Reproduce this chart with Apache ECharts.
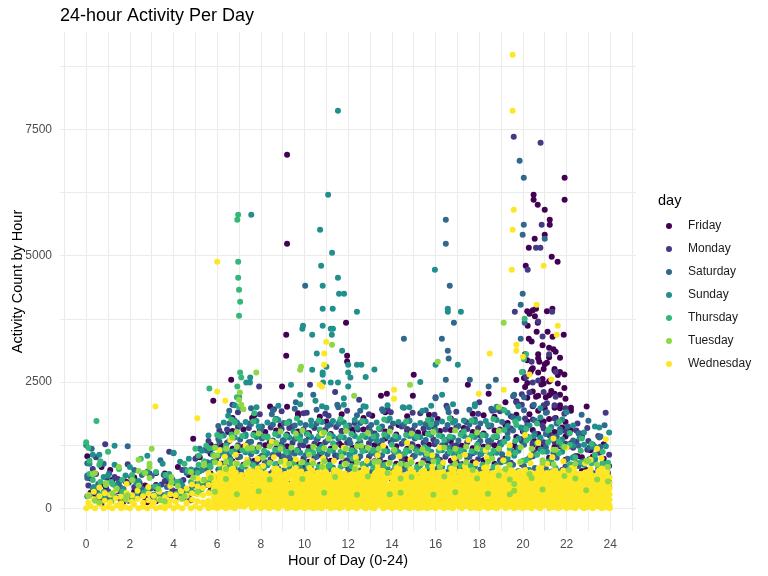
<!DOCTYPE html>
<html>
<head>
<meta charset="utf-8">
<script src="https://cdn.jsdelivr.net/npm/echarts@6.0.0/dist/echarts.min.js"></script>
<style>
  html, body { margin: 0; padding: 0; background: #fff; }
  #chart { width: 768px; height: 576px; }
</style>
</head>
<body>
<div id="chart"></div>
<script>
// day names in legend order, and their viridis colours
var dayNames = ['Friday', 'Monday', 'Saturday', 'Sunday', 'Thursday', 'Tuesday', 'Wednesday'];
var dayColors = ['#440154', '#443A83', '#31688E', '#21908C', '#35B779', '#8FD744', '#FDE725'];
// order the days are painted in (last one ends up on top)
var drawOrder = [0, 1, 2, 3, 4, 6, 5];

// axis breaks
var xBreaks = [0, 2, 4, 6, 8, 10, 12, 14, 16, 18, 20, 22, 24];
var xGrid = [-1, 0, 1, 2, 3, 4, 5, 6, 7, 8, 9, 10, 11, 12, 13, 14, 15, 16, 17, 18, 19, 20, 21, 22, 23, 24, 25];
var yBreaks = [0, 2500, 5000, 7500];
var yGrid = [0, 1250, 2500, 3750, 5000, 6250, 7500, 8750];

// single points [hour, activity count]
var friday = [
  [0.05,1030],[0.2,620],[0.4,280],[0.7,90],[0.9,410],[1.1,760],[1.4,210],[1.8,530],[2.0,218],[2.4,370],
  [2.8,120],[3.2,460],[3.6,690],[3.9,250],[4.2,820],[4.5,380],[4.8,160],[5.1,1020],[5.4,560],[5.7,1260],
  [6.0,340],[6.2,880],[6.5,1510],[6.8,640],[7.0,1150],[7.3,420],[7.6,1790],[7.9,960],[8.1,290],[8.4,1300],
  [8.7,720],[8.9,1640],[9.2,510],[9.4,1120],[9.7,1880],[9.9,830],[10.2,1420],[10.4,350],[10.7,1060],[11.0,1720],
  [11.3,640],[11.6,1280],[11.9,930],[12.2,1560],[12.5,470],[12.8,1190],[13.1,1830],[13.4,760],[13.7,1380],[14.0,540],
  [14.3,1650],[14.6,990],[14.9,1270],[15.2,620],[15.5,1490],[15.8,1010],[16.1,1770],[16.4,430],[16.7,1330],[17.0,880],
  [17.3,1590],[17.6,710],[17.9,1220],[18.2,1840],[18.5,560],[18.8,1410],[19.1,980],[19.3,1690],[19.6,1250],[19.8,2050],
  [20.0,1520],[20.1,2400],[20.3,1860],[20.4,2750],[20.5,1340],[20.6,2210],[20.7,3050],[20.8,1700],[20.9,2560],[21.0,1980],
  [21.1,2880],[21.2,1450],[21.3,2320],[21.4,3150],[21.5,1790],[21.6,2640],[21.7,2040],[21.8,1600],[21.9,2380],[22.0,1250],
  [22.2,1930],[22.4,1030],[22.6,1480],[22.9,760],[23.1,1150],[23.4,590],[23.7,980],[23.9,420],[21.3,900],[21.6,600],
  [20.2,3900],[20.3,3850],[20.45,3920],[20.55,3800],[20.6,3950],[21.1,3900],[21.35,3950],[20.22,3615],[20.68,3675],[21.13,3497],
  [20.63,3497],[21.87,3437],[21.36,3398],[20.27,3358],[20.4,3300],[20.9,3230],[21.2,3180],[21.5,3100],[20.1,3050],[21.7,2980],
  [20.75,2900],[21.0,2850],[21.45,2760],[20.35,2700],[21.9,2650],[20.05,2580],[21.25,2530],[21.6,2470],[21.05,2200],[20.85,2450],
  [9.2,7000],[9.2,5238],[9.16,3437],[9.16,3022],[6.64,2547],[8.97,2409],[11.9,3675],[11.95,3022],[11.95,2904],[15.0,2646],
  [17.48,2448],[18.43,2270],[5.82,2129],[8.42,2013],[13.5,2230],[13.77,2270],[14.96,2230],[4.9,1379],[22.92,2013],[22.5,1030],
  [21.91,6545],[21.91,6109],[20.49,6208],[20.49,6109],[20.68,6010],[21.0,5911],[21.23,5713],[21.23,5614],[21.0,5416],[20.54,5337],
  [20.27,5159],[21.32,4981],[21.59,4882],[20.13,4803]
];
var monday = [
  [0.1,450],[0.3,780],[0.5,200],[0.87,1266],[1.0,340],[1.3,620],[1.6,150],[1.9,870],[2.2,420],[2.5,260],
  [2.9,690],[3.3,180],[3.6,540],[3.8,1120],[4.1,330],[4.4,760],[4.7,220],[5.0,980],[5.3,470],[5.6,1330],
  [5.9,610],[6.1,1540],[6.4,820],[6.7,2050],[6.9,1190],[7.2,540],[7.5,1680],[7.8,910],[8.0,1420],[8.3,620],
  [8.6,1960],[8.8,1080],[9.1,450],[9.3,1590],[9.6,840],[9.8,1260],[10.1,1890],[10.3,700],[10.6,1380],[10.9,560],
  [11.1,1830],[11.4,1050],[11.7,1520],[12.0,780],[12.3,1690],[12.6,1210],[12.9,520],[13.2,1470],[13.5,880],[13.8,1960],
  [14.1,1130],[14.4,640],[14.7,1570],[15.0,1040],[15.3,1880],[15.6,720],[15.9,1360],[16.2,960],[16.5,2030],[16.8,1240],
  [17.1,580],[17.4,1710],[17.7,1090],[18.0,1450],[18.3,800],[18.6,1930],[18.9,1170],[19.2,1560],[19.5,690],[19.7,2100],
  [19.9,1370],[20.1,1780],[20.3,2290],[20.5,1110],[20.7,2530],[20.9,1640],[21.1,2080],[21.3,1430],[21.5,2210],[21.7,1250],
  [21.9,1870],[22.1,1480],[22.3,1200],[22.5,1680],[22.8,940],[23.0,1330],[23.2,700],[23.5,1100],[23.79,1894],[23.9,850],
  [23.95,520],[22.6,560],[23.3,420],[21.8,760],
  [19.58,7356],[20.81,7237],[20.86,5614],[20.6,5159],[20.8,5159],[20.22,4724],[19.63,3893],[21.34,3893],[10.25,2448],[7.92,2409],
  [20.7,3700],[20.9,3400],[21.2,3050],[20.4,2900],[21.5,2700],[20.15,2600],[11.4,2300],[12.5,2150],[16.0,2200],[18.0,2100]
];
var saturday = [
  [0.05,600],[0.25,1180],[0.5,320],[0.8,880],[1.1,170],[1.5,510],[1.9,1230],[2.2,760],[2.6,300],[3.0,640],
  [3.4,950],[3.7,420],[4.0,1090],[4.3,230],[4.6,700],[4.9,460],[5.2,1180],[5.5,800],[5.8,350],[6.1,1320],
  [6.3,580],[6.6,980],[6.9,1700],[7.1,760],[7.4,1280],[7.7,430],[8.0,1560],[8.2,900],[8.5,1860],[8.8,620],
  [9.0,1340],[9.3,1010],[9.6,2100],[9.9,760],[10.1,1480],[10.4,2250],[10.7,1120],[10.9,590],[11.2,1660],[11.5,2050],
  [11.8,880],[12.1,1290],[12.4,1840],[12.7,690],[13.0,1530],[13.3,1060],[13.6,1920],[13.9,430],[14.2,1370],[14.5,860],
  [14.8,1740],[15.1,1170],[15.4,540],[15.7,1600],[16.0,2180],[16.3,1250],[16.6,1900],[16.9,780],[17.2,1460],[17.5,1040],
  [17.8,1760],[18.1,620],[18.4,1330],[18.7,1940],[19.0,910],[19.3,1490],[19.6,2250],[19.8,1200],[20.0,2700],[20.2,1650],
  [20.5,2050],[20.8,1380],[21.1,1900],[21.4,1100],[21.7,1570],[22.0,820],[22.3,1340],[22.69,1854],[23.0,1735],[23.3,960],
  [23.5,1400],[23.74,1642],[23.9,700],
  [10.03,4407],[16.47,5713],[16.47,5238],[16.65,4407],[16.84,3675],[16.29,3358],[16.56,3121],[16.6,2963],[19.85,6881],[20.04,6545],
  [20.04,5614],[19.99,5416],[21.0,5337],[19.99,4249],[19.9,4031],[20.08,3675],[19.9,3358],[14.55,3358],[16.47,2547],[17.57,2547],
  [18.76,2547],[18.43,2409]
];
var sunday = [
  [0.0,1250],[0.15,880],[0.35,420],[0.6,1060],[0.85,230],[1.0,650],[1.3,1240],[1.7,380],[2.0,820],[2.4,540],
  [2.8,1040],[3.1,270],[3.5,880],[3.8,600],[4.0,1100],[4.4,450],[4.7,980],[5.0,310],[5.3,760],[5.6,1440],
  [5.9,540],[6.2,1100],[6.5,1830],[6.8,680],[7.0,2200],[7.3,1460],[7.6,870],[7.9,1620],[8.2,1050],[8.5,420],
  [8.7,1770],[9.0,1190],[9.2,650],[9.5,1520],[9.8,2250],[10.0,900],[10.3,1640],[10.5,2130],[10.8,1230],[11.0,1990],
  [11.3,760],[11.6,1710],[11.8,2180],[12.1,1060],[12.4,1600],[12.7,2020],[13.0,890],[13.3,1340],[13.6,560],[13.9,1780],
  [14.2,1150],[14.5,2000],[14.8,720],[15.1,1420],[15.4,1930],[15.7,990],[16.0,1550],[16.3,2250],[16.6,1200],[16.9,1730],
  [17.2,630],[17.5,1380],[17.8,2060],[18.1,1080],[18.4,1650],[18.7,470],[19.0,1260],[19.3,1890],[19.6,1040],[19.9,1600],
  [20.2,760],[20.5,1430],[20.8,1980],[21.1,1120],[21.4,650],[21.7,1510],[22.0,1900],[22.3,1010],[22.6,1390],[22.9,560],
  [23.2,1220],[23.5,1600],[23.8,880],[23.95,1500],
  [11.53,7870],[11.08,6208],[7.56,5812],[10.71,5515],[11.26,5060],[10.76,4803],[11.53,4565],[10.83,4407],[11.58,4249],[11.81,4249],
  [10.83,3952],[11.29,3952],[10.83,3615],[9.93,3615],[9.9,3555],[11.2,3555],[11.3,3555],[11.25,3437],[10.35,3437],[11.72,3121],
  [10.56,3062],[10.35,2745],[10.83,2686],[10.83,2646],[11.0,2804],[12.0,2686],[12.0,2409],[12.1,2587],[7.51,2587],[7.33,2488],
  [7.5,2488],[9.38,2448],[10.85,2488],[11.2,2488],[11.53,2488],[12.4,3893],[15.97,4724],[16.56,3952],[16.56,3893],[17.16,3893],
  [16.0,2844],[17.02,2844],[12.0,2844],[12.4,2844],[12.6,2844],[13.2,2750],[12.8,2600],[15.3,2500]
];
var thursday = [
  [0.0,1310],[0.1,1200],[0.3,560],[0.47,1728],[0.6,860],[0.8,330],[1.0,1120],[1.2,480],[1.5,780],[1.8,240],
  [2.1,660],[2.5,980],[2.8,380],[3.2,720],[3.5,180],[3.9,560],[4.2,300],[4.5,880],[4.8,520],[5.0,1180],
  [5.1,700],[5.3,380],[5.4,930],[5.5,1240],[5.6,560],[5.7,820],[5.8,1060],[5.9,420],[6.0,1450],[6.2,700],
  [6.4,1240],[6.6,950],[6.8,1700],[7.1,640],[7.4,1150],[7.7,1880],[8.0,820],[8.3,1400],[8.6,560],[8.9,1220],
  [9.2,1690],[9.5,900],[9.8,1350],[10.1,560],[10.4,1100],[10.7,1560],[11.0,820],[11.3,1290],[11.6,640],[11.9,1620],
  [12.2,980],[12.5,1380],[12.8,700],[13.1,1140],[13.4,1580],[13.7,860],[14.0,1260],[14.3,530],[14.6,1090],[14.9,1470],
  [15.2,780],[15.5,1210],[15.8,1660],[16.1,950],[16.4,1350],[16.7,610],[17.0,1130],[17.3,1520],[17.6,840],[17.9,1260],
  [18.2,570],[18.5,1060],[18.8,1430],[19.1,730],[19.4,1180],[19.7,1650],[20.0,940],[20.3,1390],[20.6,600],[20.9,1120],
  [21.2,1560],[21.5,800],[21.8,1240],[22.1,560],[22.4,1010],[22.7,1380],[23.0,720],[23.3,1060],[23.6,480],[23.9,900],
  [6.96,5812],[6.92,5713],[6.96,4882],[6.96,4565],[7.0,4328],[7.05,4090],[7.0,3813],[7.05,2686],[7.1,2587],[6.92,2409],
  [5.64,2370],[20.08,3754],[20.05,2950],[20.15,3050],[19.95,2700],[6.9,2200],[7.0,2000]
];
var tuesday = [
  [0.1,240],[0.3,680],[0.6,120],[0.9,460],[1.2,300],[1.5,820],[1.8,180],[2.1,560],[2.4,960],[2.7,700],
  [2.9,820],[3.0,1180],[3.3,380],[3.6,140],[3.9,620],[4.2,440],[4.5,240],[4.8,720],[5.1,330],[5.4,880],
  [5.7,600],[5.87,1036],[6.0,1050],[6.4,780],[6.7,1400],[7.1,2050],[7.2,1960],[7.3,880],
  [7.6,1200],[8.1,1000],[8.7,1300],[9.3,880],[9.6,1480],[10.2,1060],
  [10.8,820],[11.1,1380],[11.7,1020],[12.3,780],[12.6,1240],[13.2,920],
  [13.8,700],[14.1,1160],[14.7,860],[15.6,1080],[16.2,820],
  [17.1,1020],[17.7,760],[18.6,980],[19.2,780],
  [20.3,680],[20.9,900],[21.5,1160],[22.1,760],[23.0,930],[7.04,2290],[7.0,2150],
  [9.84,2804],[9.8,2745],[11.26,3240],[7.79,2686],[19.12,3675],[16.1,2903],[14.83,2448],[12.27,2230],[18.9,2000]
];
var wednesday = [
  [0.0,0],[0.2,40],[0.4,0],[0.6,80],[0.8,0],[1.0,30],[1.2,0],[1.4,60],[1.6,0],[1.8,20],
  [2.0,0],[2.2,70],[2.4,0],[2.6,30],[2.8,0],[3.0,50],[3.2,0],[3.4,20],[3.6,0],[3.8,60],
  [4.0,0],[4.2,30],[4.4,0],[4.6,90],[4.8,0],[5.0,40],[5.2,0],[5.4,70],[5.6,0],[5.8,20],
  [6.0,0],[6.2,50],[6.4,0],[6.6,30],[6.8,0],[7.0,60],[7.6,0],[7.8,80],
  [8.0,0],[8.2,40],[8.4,0],[8.6,30],[8.8,0],[9.0,70],[9.2,0],[9.4,20],[9.6,0],[9.8,50],
  [10.0,0],[10.2,30],[10.4,0],[10.6,60],[10.8,0],[11.0,40],[11.2,0],[11.4,20],[11.6,0],[11.8,90],
  [12.0,0],[12.2,30],[12.4,0],[12.6,50],[12.8,0],[13.0,20],[13.2,0],[13.4,70],[13.6,0],[13.8,40],
  [14.0,0],[14.2,30],[14.4,0],[14.6,60],[14.8,0],[15.0,20],[15.2,0],[15.4,80],[15.6,0],[15.8,30],
  [16.0,0],[16.2,50],[16.4,0],[16.6,20],[16.8,0],[17.0,60],[17.2,0],[17.4,40],[17.6,0],[17.8,30],
  [18.0,0],[18.2,70],[18.4,0],[18.6,20],[18.8,0],[19.0,50],[19.2,0],[19.4,30],[19.6,0],[19.8,60],
  [20.0,0],[20.2,20],[20.4,0],[20.6,40],[20.8,0],[21.0,80],[21.2,0],[21.4,30],[21.6,0],[21.8,50],
  [22.0,0],[22.2,20],[22.4,0],[22.6,60],[22.8,0],[23.0,30],[23.2,0],[23.4,40],[23.6,0],[23.8,20],[23.98,0],
  [3.17,2013],[5.09,1781],[6.1,1150],[6.6,1350],[7.3,1240],[8.5,1320],[10.8,1480],[11.8,1200],[13.6,1240],[14.7,1300],
  [16.2,1200],[17.5,1350],[18.3,1150],[19.4,1250],[20.1,1450],[20.7,1300],[21.4,1380],[22.0,1200],[23.4,1180],[23.8,1365],
  [19.53,8979],[19.53,7870],[19.58,5911],[19.53,5515],[19.49,4724],[20.95,4803],[20.63,4031],[6.0,4882],[10.99,3299],[10.9,3062],
  [10.9,2844],[10.7,2448],[10.8,2409],[21.6,3615],[21.55,3437],[19.7,3240],[19.7,3121],[18.48,3062],[17.98,2270],[19.12,2349],
  [14.1,2349],[14.1,2170],[6.0,2310],[6.37,2131],[20.3,2650],[21.3,2550],[20.0,3000]
];

// dense lower band: [hour, count, count, ...] columns
var fridayCols = [
  [0.2,310,590],[0.7,160,470,820],[1.2,250,560],[1.7,130,380],[2.2,340,610],[2.7,210,450],[3.2,140,390,700],[3.7,280,540],
  [4.2,220,480],[4.7,370,660],[5.2,430,740,1010],[5.7,360,690,1080],
  [6.2,630,880,1240,1470],[6.7,570,930,1180,1530,1790],[7.2,650,860,1220,1560],[7.7,590,940,1170,1480,1840],
  [8.2,620,910,1250,1510],[8.7,560,870,1190,1540,1770],[9.2,640,950,1230,1460,2010],[9.7,600,880,1160,1520,1830],
  [10.2,580,920,1210,1490],[10.7,650,860,1260,1550,1810],[11.2,610,940,1180,1470],[11.7,570,890,1240,1530,1860],
  [12.2,630,910,1200,1500],[12.7,590,870,1170,1560,1790],[13.2,660,930,1250,1480],[13.7,600,900,1190,1520,1900],
  [14.2,570,880,1230,1460],[14.7,640,950,1180,1540,1820],[15.2,610,860,1220,1500],[15.7,580,920,1260,1470,1850],
  [16.2,650,890,1170,1530],[16.7,600,940,1210,1550,1780],[17.2,570,870,1240,1490],[17.7,630,910,1190,1510,1870],
  [18.2,590,950,1220,1480],[18.7,660,880,1250,1540,1810],
  [19.2,940,1380,1650,2100],[19.7,1150,1410,1850,2120,2540],[20.2,960,1410,1720,2190,2480,2930],
  [20.7,1190,1470,1930,2230,2690,2970],[21.2,1000,1460,1770,2240,2510,2990],[21.7,1230,1520,1980,2250,2700],
  [20.45,1260,1550,2020,2310,2770],[20.95,1260,1720,2000,2470,2760],[21.45,1220,1510,1990,2270,2730],[21.95,960,1420,1710,2170],
  [22.2,860,1290,1550,1990],[22.7,740,1010,1430],[23.2,600,1020,1260],[23.7,600,850,1270]
];
var mondayCols = [
  [0.45,400,680,1010],[0.95,190,600],[1.45,340,580],[1.95,150,510],[2.45,310,500],[2.95,390,640],[3.45,170,470],[3.95,360,570],
  [4.45,210,560],[4.95,450,720],[5.45,510,790,1160],[5.95,500,940,1220],
  [6.45,700,960,1300,1560],[6.95,650,1010,1250,1610,1900],[7.45,720,950,1310,1590],[7.95,670,1000,1260,1550,1860],
  [8.45,690,970,1290,1600],[8.95,660,1020,1270,1570,1920],[9.45,710,940,1300,1620],[9.95,680,990,1250,1560,1880],
  [10.45,650,1000,1280,1590],[10.95,720,960,1310,1550,1870],[11.45,690,1010,1260,1610],[11.95,660,950,1300,1580,1930],
  [12.45,700,980,1270,1560],[12.95,670,1020,1290,1600,1860],[13.45,710,960,1250,1570],[13.95,680,1000,1310,1590,1900],
  [14.45,650,970,1280,1620],[14.95,720,1010,1260,1550,1890],[15.45,690,950,1300,1580],[15.95,660,990,1270,1610,1850],
  [16.45,700,1020,1290,1560],[16.95,670,960,1250,1600,1910],[17.45,710,1000,1310,1570],[17.95,680,970,1280,1590,1870],
  [18.45,650,1010,1260,1620],[18.95,720,950,1300,1560,1920],
  [19.45,900,1140,1580,1820],[19.95,870,1330,1590,2050,2260],[20.45,1030,1290,1760,2030,2490],[20.95,850,1310,1580,2040,2300],
  [21.45,1060,1320,1780,2040],[21.95,830,1280,1530,1980],
  [22.45,670,890,1320,1540],[22.95,510,930,1160,1590],[23.45,550,780,1200,1430],[23.95,410,840,1060]
];
var saturdayCols = [
  [0.05,240,650,890],[0.55,240,480],[1.05,290,690],[1.55,210,420],[2.05,220,620],[2.55,380,660],[3.05,230,410],[3.55,260,660],
  [4.05,270,500],[4.55,340,760],[5.05,480,760],[5.55,460,910,1140],
  [6.05,770,1030,1370,1630],[6.55,720,1080,1330,1680,1930],[7.05,760,1020,1360,1640],[7.55,740,1070,1320,1670,1980],
  [8.05,780,1040,1380,1620],[8.55,730,1060,1340,1660,1940],[9.05,750,1030,1350,1690],[9.55,720,1080,1370,1640,1970],
  [10.05,770,1050,1330,1650],[10.55,740,1020,1360,1680,1950],[11.05,760,1070,1340,1630],[11.55,730,1040,1380,1670,2000],
  [12.05,780,1060,1350,1640],[12.55,750,1030,1320,1690,1930],[13.05,720,1080,1370,1650],[13.55,760,1050,1340,1620,1960],
  [14.05,740,1020,1360,1680],[14.55,770,1070,1330,1660,1990],[15.05,730,1040,1380,1640],[15.55,750,1060,1350,1670,1940],
  [16.05,780,1030,1320,1690],[16.55,720,1080,1360,1650,1980],[17.05,760,1050,1340,1630],[17.55,740,1020,1370,1660,1950],
  [18.05,770,1070,1330,1680],[18.55,730,1040,1350,1640,1970],
  [19.05,670,1070,1310,1710,1950],[19.55,860,1120,1540,1800,2220],[20.05,840,1260,1520,1940,2200],[20.55,800,1060,1480,1740],
  [21.05,790,1210,1470,1890],[21.55,740,1000,1420,1680],
  [22.05,580,980,1220,1620],[22.55,600,840,1240,1480],[23.05,570,970,1210],[23.55,580,820,1220,1420]
];
var sundayCols = [
  [0.3,390,660,1060],[0.8,220,620],[1.3,230,460,860],[1.8,260,650],[2.3,270,500],[2.8,340,730],[3.3,250,440],[3.8,280,680],
  [4.3,300,530,920],[4.8,360,770],[5.3,500,760,1140],[5.8,480,920,1190],
  [6.3,840,1100,1440,1700],[6.8,800,1140,1400,1740,2040],[7.3,830,1110,1430,1710],[7.8,810,1130,1410,1730,2000],
  [8.3,850,1090,1420,1700],[8.8,790,1150,1440,1750,2030],[9.3,820,1120,1400,1720],[9.8,840,1100,1430,1690,2060],
  [10.3,800,1130,1410,1740],[10.8,830,1110,1450,1710,2020],[11.3,810,1140,1420,1730],[11.8,850,1100,1400,1700,2050],
  [12.3,790,1120,1430,1750],[12.8,820,1150,1410,1720,2010],[13.3,840,1090,1440,1700],[13.8,800,1130,1420,1740,2040],
  [14.3,830,1110,1400,1710],[14.8,810,1140,1430,1730,2000],[15.3,850,1100,1410,1690],[15.8,790,1120,1450,1750,2030],
  [16.3,820,1150,1420,1720],[16.8,840,1090,1400,1700,2060],[17.3,800,1130,1430,1740],[17.8,830,1110,1410,1710,2020],
  [18.3,810,1140,1440,1730],[18.8,850,1100,1420,1750,2010],
  [19.3,750,990,1390,1630],[19.8,740,1140,1380,1780,2020],[20.3,760,1000,1400,1640],[20.8,760,1160,1400,1800],
  [21.3,730,970,1370,1610],[21.8,720,1120,1360,1760],
  [22.3,600,1000,1240,1640],[22.8,620,860,1260,1500],[23.3,580,980,1220,1620],[23.8,590,830,1230]
];
var thursdayCols = [
  [0.15,260,680,940],[0.65,270,520,930],[1.15,140,520],[1.65,330,560],[2.15,180,560],[2.65,310,700],[3.15,230,430],[3.65,270,660],
  [4.15,290,520],[4.65,340,740],[5.15,340,520,860,1040],[5.65,320,660,840,1190],
  [6.15,560,820,1160,1420],[6.65,520,860,1120,1460,1760],[7.15,550,830,1150,1430],[7.65,530,850,1130,1450,1720],
  [8.15,570,810,1140,1420],[8.65,510,870,1160,1470,1750],[9.15,540,840,1120,1440],[9.65,560,820,1150,1410,1780],
  [10.15,520,850,1130,1460],[10.65,550,830,1170,1430,1740],[11.15,530,860,1140,1450],[11.65,570,820,1120,1420,1770],
  [12.15,510,840,1150,1470],[12.65,540,870,1130,1440,1730],[13.15,560,810,1160,1420],[13.65,520,850,1140,1460,1760],
  [14.15,550,830,1120,1430],[14.65,530,860,1150,1450,1720],[15.15,570,820,1130,1410],[15.65,510,840,1170,1470,1750],
  [16.15,540,870,1140,1440],[16.65,560,810,1120,1420,1780],[17.15,520,850,1150,1460],[17.65,550,830,1130,1430,1740],
  [18.15,530,860,1160,1450],[18.65,570,820,1140,1410,1770],
  [19.15,700,930,1320,1550,1940],[19.65,710,1100,1330,1720],[20.15,720,950,1340,1570],[20.65,670,1060,1290,1680],
  [21.15,690,920,1310,1540],[21.65,700,1090,1320,1710],
  [22.15,640,870,1260,1490],[22.65,520,910,1140],[23.15,660,890,1280],[23.65,500,890,1120]
];
// tuesday sits on top of the yellow band, so only a few patches per column
var tuesdayCols = [
  [0.4,150,700],[0.9,500],[1.4,390],[1.9,260],[2.4,450,740],[2.9,600,880],[3.4,160],[3.9,510],
  [4.4,190],[4.9,610],[5.4,560,850],[5.9,330,910,1200],
  [6.4,580,920,1180],[6.9,280,880,1220,1510],[7.4,910,1190],[7.9,340,1210,1480],
  [8.4,570,900,1230],[8.9,920,1180,1520],[9.4,300,1200],[9.9,580,910,1540],
  [10.4,890,1220],[10.9,310,930,1190,1500],[11.4,620,1210],[11.9,880,1180,1530],
  [12.4,270,910,1230],[12.9,630,1200,1490],[13.4,920,1180],[13.9,280,900,1520],
  [14.4,310,590,880],[14.9,620,910,1210,1480],[15.4,890,1170],[15.9,270,930,1510],
  [16.4,630,1200],[16.9,320,880,1180,1540],[17.4,910,1220],[17.9,590,1190,1500],
  [18.4,290,920,1210],[18.9,650,1180,1530],
  [19.4,280,570,860],[19.6,350,480],[19.9,920,1210],[20.4,600,1180],[20.9,370,950],
  [21.4,870,1160],[21.9,640,1220],
  [22.4,590,880],[22.9,360,940],[23.4,570,860],[23.9,530,820]
];
var wednesdayCols = [
  [0.1,110,260],[0.35,180,330],[0.6,90,240,410],[0.85,150,300],[1.1,120,270],[1.35,200,360],[1.6,100,230],[1.85,170,310,480],
  [2.1,130,260],[2.35,190,350],[2.6,110,240],[2.85,160,290,420],[3.1,120,250],[3.35,180,330],[3.6,100,220],[3.85,150,280,440],
  [4.1,130,260],[4.35,190,340],[4.6,110,250,390],[4.85,170,300,470],[5.1,140,280,430,590],[5.35,120,260,400,550],
  [5.6,60,150,300,460,610,700],
  [5.85,40,130,220,310,390,480,570,650],
  [6.1,80,170,260,350,430,520,610,700,880],
  [6.35,20,110,200,280,370,460,550,630,720,810,1020],
  [6.6,60,150,240,330,410,500,590,680,760],
  [6.85,100,190,270,360,450,540,620,710,890,1060],
  [7.1,40,130,220,300,390,480,570,660],
  [7.35,70,160,250,340,420,510,600,690,870,960],
  [7.6,30,120,210,290,380,560,640,730],
  [7.85,90,180,260,350,440,530,620,700,790,980],
  [8.1,50,140,230,320,400,490,580,670,840],
  [8.35,10,100,190,280,360,450,540,630],
  [8.6,80,170,250,340,430,520,610,690,780,1010],
  [8.85,40,130,220,310,390,480,570,660,740],
  [9.1,60,150,240,330,410,500,590,680,850,940],
  [9.35,20,110,200,290,370,460,640,720],
  [9.6,100,190,280,360,450,540,630,710,800,970],
  [9.85,30,120,210,300,380,470,560,650,730,910],
  [10.1,70,160,250,330,420,510,600,680],
  [10.35,50,140,220,310,400,490,580,660,750,930],
  [10.6,10,100,190,270,360,450,540,620,710],
  [10.85,90,180,270,350,440,530,620,700,790,880,990],
  [11.1,40,130,210,300,390,480,560,650],
  [11.35,60,150,240,320,410,500,590,670,760,940],
  [11.6,20,110,200,280,370,460,550,630,720],
  [11.85,80,170,260,340,430,520,610,690,870],
  [12.1,50,140,230,310,400,490,580,660],
  [12.35,30,120,200,290,380,470,550,640,730,820,1000],
  [12.6,100,190,270,360,450,540,620,710],
  [12.85,60,150,240,330,410,500,590,680,760,940],
  [13.1,10,100,190,280,360,450,540,630],
  [13.35,70,160,250,340,420,510,600,690,770,860,1050],
  [13.6,40,130,220,300,390,480,570,650,740],
  [13.85,90,180,270,350,440,620,700,880],
  [14.1,20,110,200,290,370,460,550,640,720],
  [14.35,60,150,230,320,410,500,580,670,760,850,1030],
  [14.6,30,120,210,290,380,470,560,640],
  [14.85,80,170,260,350,430,520,610,700,780,960],
  [15.1,50,140,220,310,400,490,570,660],
  [15.35,10,100,190,280,370,450,540,630,720,890],
  [15.6,70,160,250,330,420,510,600,680],
  [15.85,40,130,220,310,390,480,570,660,740,830,1050],
  [16.1,100,190,280,360,450,540,630,710],
  [16.35,20,110,200,290,370,460,550,640,720,900],
  [16.6,60,150,240,320,410,500,590,670],
  [16.85,90,180,260,350,440,530,610,700,790,990],
  [17.1,30,120,210,290,380,560,640,730],
  [17.35,50,140,230,320,400,490,580,670,750,840,1060],
  [17.6,80,170,250,340,430,520,600,690],
  [17.85,10,100,190,280,360,450,540,630,710,890],
  [18.1,60,150,240,330,410,500,590,680],
  [18.35,40,130,210,300,390,480,560,650,740,830,1000],
  [18.6,90,180,270,350,440,530,620,700],
  [18.85,20,110,200,290,370,460,550,640,720,810],
  [19.1,70,160,250,330,420,510,600,680,950],
  [19.35,50,140,220,310,400,490,570,660,750,840,1080],
  [19.6,100,190,280,360,450,540,630,710],
  [19.85,30,120,210,300,380,470,560,650,730,910],
  [20.1,60,150,240,320,410,500,590,670,760],
  [20.35,10,100,190,280,360,450,540,630,710,890,1050],
  [20.6,80,170,260,340,430,520,610,690],
  [20.85,40,130,220,310,390,480,570,660,740,830],
  [21.1,90,180,270,350,440,530,620,700,880],
  [21.35,20,110,200,290,370,460,550,640,720,1010],
  [21.6,70,160,250,330,420,510,600,680],
  [21.85,50,140,230,310,400,490,580,660,750,930],
  [22.1,100,190,270,360,450,540,620,710],
  [22.35,30,120,210,290,380,470,560,640,730,820],
  [22.6,60,150,240,330,410,500,590,680],
  [22.85,10,100,190,280,360,450,540,630,710,890],
  [23.1,80,170,260,350,430,520,610,700,780,960],
  [23.35,40,130,220,300,390,480,570,650],
  [23.6,90,180,270,350,440,530,620,700,790,990],
  [23.85,20,110,200,290,370,460,550,640,720,810]
];
// more wednesday columns between the ones above, where the band is solid
var wednesdayFill = [
  [5.97,60,170,280,390,500],[6.22,30,140,250,360,470,580,690],[6.48,90,200,310,420,530,640],[6.72,20,130,240,350,460,570,680,790],
  [6.98,60,170,280,390,500,610],[7.22,30,140,250,360,470,580],[7.48,90,200,310,420,530,640,750],[7.72,20,130,240,350,460,570,680],
  [7.98,60,170,280,390,500,610,720],[8.22,30,140,250,360,470,580,690],[8.48,90,200,310,420,530,640],[8.72,20,130,240,350,460,570,680,790],
  [8.98,60,170,280,390,500,610],[9.22,30,140,250,360,470,580,690],[9.48,90,200,310,420,530,640,750],[9.72,20,130,240,350,460,570,680],
  [9.98,60,170,280,390,500,610],[10.22,30,140,250,360,470,580,690,800],[10.48,90,200,310,420,530,640],[10.72,20,130,240,350,460,570,680],
  [10.98,60,170,280,390,500,610,720],[11.22,30,140,250,360,470,580],[11.48,90,200,310,420,530,640,750],[11.72,20,130,240,350,460,570,680],
  [11.98,60,170,280,390,500,610],[12.22,30,140,250,360,470,580,690],[12.48,90,200,310,420,530,640],[12.72,20,130,240,350,460,570,680,790],
  [12.98,60,170,280,390,500,610],[13.22,30,140,250,360,470,580,690],[13.48,90,200,310,420,530,640,750],[13.72,20,130,240,350,460,570,680],
  [13.98,60,170,280,390,500,610],[14.22,30,140,250,360,470,580,690,800],[14.48,90,200,310,420,530,640],[14.72,20,130,240,350,460,570,680],
  [14.98,60,170,280,390,500,610,720],[15.22,30,140,250,360,470,580],[15.48,90,200,310,420,530,640,750],[15.72,20,130,240,350,460,570,680],
  [15.98,60,170,280,390,500,610],[16.22,30,140,250,360,470,580,690],[16.48,90,200,310,420,530,640],[16.72,20,130,240,350,460,570,680,790],
  [16.98,60,170,280,390,500,610],[17.22,30,140,250,360,470,580,690],[17.48,90,200,310,420,530,640,750],[17.72,20,130,240,350,460,570,680],
  [17.98,60,170,280,390,500,610],[18.22,30,140,250,360,470,580,690,800],[18.48,90,200,310,420,530,640],[18.72,20,130,240,350,460,570,680],
  [18.98,60,170,280,390,500,610,720],[19.22,30,140,250,360,470,580],[19.48,90,200,310,420,530,640,750],[19.72,20,130,240,350,460,570,680],
  [19.98,60,170,280,390,500,610],[20.22,30,140,250,360,470,580,690],[20.48,90,200,310,420,530,640],[20.72,20,130,240,350,460,570,680,790],
  [20.98,60,170,280,390,500,610],[21.22,30,140,250,360,470,580,690],[21.48,90,200,310,420,530,640,750],[21.72,20,130,240,350,460,570,680],
  [21.98,60,170,280,390,500,610],[22.22,30,140,250,360,470,580,690,800],[22.48,90,200,310,420,530,640],[22.72,20,130,240,350,460,570,680],
  [22.98,60,170,280,390,500,610,720],[23.22,30,140,250,360,470,580],[23.48,90,200,310,420,530,640,750],[23.72,20,130,240,350,460,570,680],
  [23.97,60,170,280,390,500,610]
];

var dayPoints = [friday, monday, saturday, sunday, thursday, tuesday, wednesday];
var dayCols = [fridayCols, mondayCols, saturdayCols, sundayCols, thursdayCols, tuesdayCols, wednesdayCols.concat(wednesdayFill)];

// turn [hour, c1, c2, ...] columns into [hour, c] points
function expand_cols(cols)
{
    var out = [];
    cols.forEach(function (row) {
        for (var k = 1; k < row.length; k++) {
            out.push([row[0], row[k]]);
        }
    });
    return out;
}

var font = '"Liberation Sans", Arial, sans-serif';
var chart = echarts.init(document.getElementById('chart'), null, {renderer: 'canvas'});

var series = drawOrder.map(function (i) {
    return {
        name: dayNames[i],
        type: 'scatter',
        data: expand_cols(dayCols[i]).concat(dayPoints[i]),
        symbol: 'circle',
        symbolSize: 6,
        itemStyle: {color: dayColors[i], opacity: 1},
        emphasis: {disabled: true},
        silent: true
    };
});

chart.setOption({
    animation: false,
    backgroundColor: '#ffffff',
    textStyle: {fontFamily: font},
    title: [{
        text: '24-hour Activity Per Day',
        left: 60, top: 7, padding: 0,
        textStyle: {fontFamily: font, fontSize: 18, fontWeight: 'normal', color: '#000'}
    }, {
        text: 'day',
        left: 658, top: 193, padding: 0,
        textStyle: {fontFamily: font, fontSize: 14.5, fontWeight: 'normal', color: '#000'}
    }],
    legend: {
        orient: 'vertical',
        left: 666, top: 220,
        padding: 0,
        itemWidth: 6, itemHeight: 6,
        itemGap: 11,
        icon: 'circle',
        selectedMode: false,
        data: dayNames,
        textStyle: {fontFamily: font, fontSize: 12, color: '#1a1a1a', padding: [0, 0, 0, 11]}
    },
    grid: {left: 60, right: 132, top: 32, bottom: 45, containLabel: false, outerBoundsMode: 'none'},
    xAxis: {
        type: 'value',
        min: -1.2, max: 25.18,
        name: 'Hour of Day (0-24)',
        nameLocation: 'middle',
        nameGap: 22,
        nameMoveOverlap: false,
        nameTextStyle: {fontFamily: font, fontSize: 14.5, color: '#000'},
        axisLine: {show: false},
        axisTick: {show: false, customValues: xGrid},
        axisLabel: {customValues: xBreaks, margin: 8, color: '#4D4D4D', fontSize: 12, fontFamily: font,
            formatter: function (v) { return String(v); }},
        splitLine: {show: true, lineStyle: {color: '#EBEBEB', width: 1}}
    },
    yAxis: {
        type: 'value',
        min: -449, max: 9428,
        name: 'Activity Count by Hour',
        nameLocation: 'middle',
        nameGap: 35,
        nameMoveOverlap: false,
        nameTextStyle: {fontFamily: font, fontSize: 14.5, color: '#000'},
        axisLine: {show: false},
        axisTick: {show: false, customValues: yGrid},
        axisLabel: {customValues: yBreaks, margin: 8, color: '#4D4D4D', fontSize: 12, fontFamily: font,
            formatter: function (v) { return String(v); }},
        splitLine: {show: true, lineStyle: {color: '#EBEBEB', width: 1}}
    },
    series: series
});
</script>
</body>
</html>
